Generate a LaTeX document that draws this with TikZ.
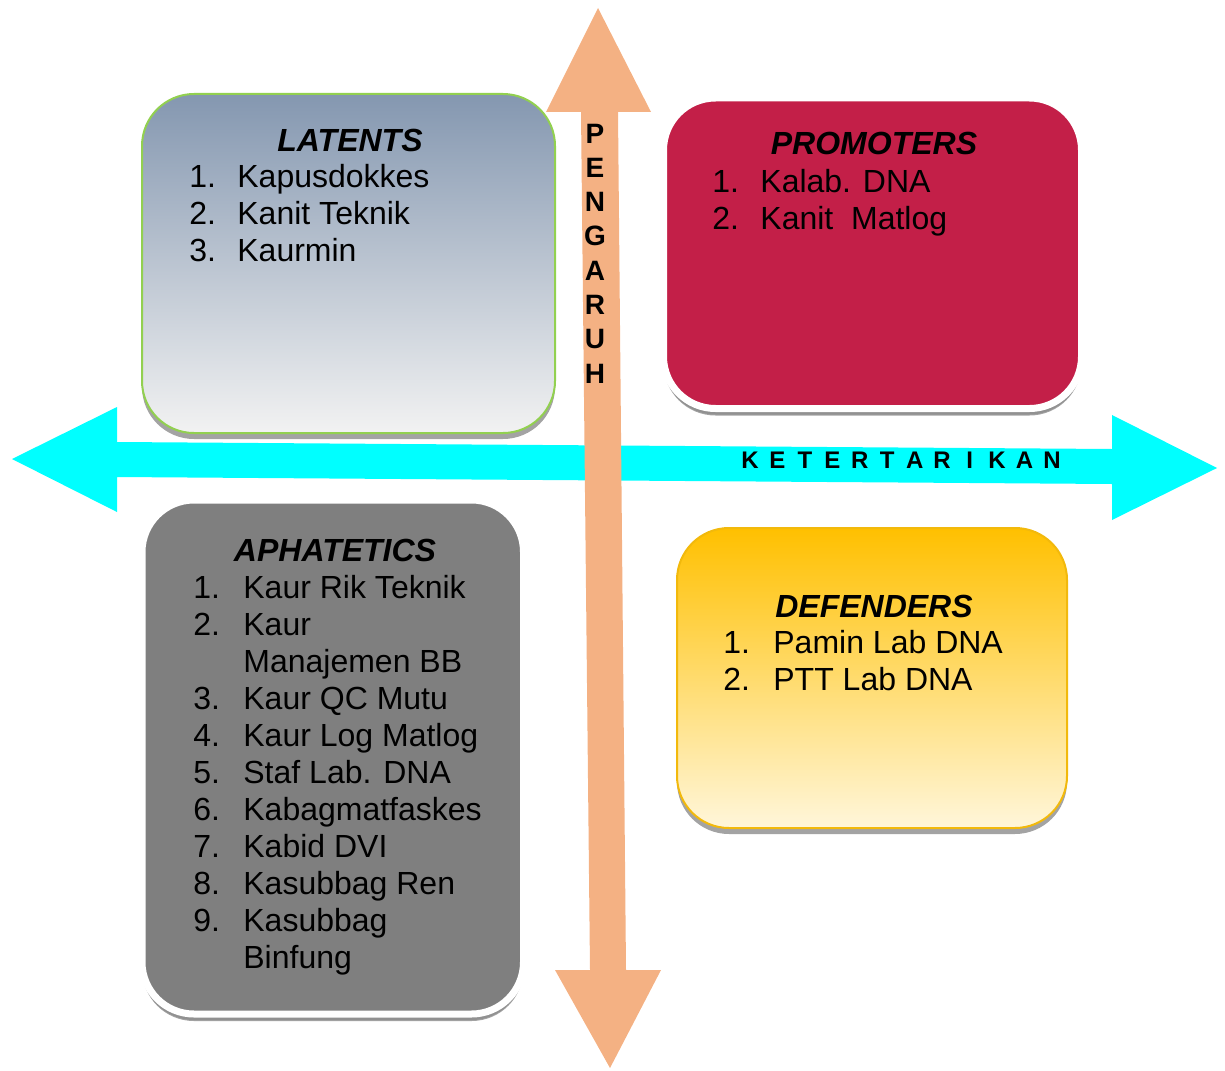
\documentclass[tikz,border=0pt]{standalone}
\usepackage{fontspec}
\setmainfont{Liberation Sans}
\usetikzlibrary{shadows,fit}

\definecolor{peach}{HTML}{F4B183}
\definecolor{aqua}{HTML}{00FFFF}
\definecolor{slate}{HTML}{8497B0}
\definecolor{paleslate}{HTML}{BAC1CD}
\definecolor{lightgrey}{HTML}{F2F2F2}
\definecolor{leafgreen}{HTML}{92D050}
\definecolor{crimson}{RGB}{195,31,72}
\definecolor{amber}{HTML}{FFC000}
\definecolor{paleamber}{HTML}{FFDF95}
\definecolor{cream}{HTML}{FFF6DA}
\definecolor{amberline}{HTML}{F2B90C}
\definecolor{midgrey}{HTML}{7F7F7F}

\tikzset{
    quadbox/.style={rounded corners=26pt, inner sep=0pt,
        drop shadow={shadow xshift=0pt, shadow yshift=-3pt, fill=black!45, opacity=.8}},
    whitebox/.style={quadbox, draw=white, line width=3.5pt,
        drop shadow={shadow xshift=0pt, shadow yshift=-3.5pt, fill=black!45, opacity=.8}},
    title/.style={anchor=base, inner sep=0pt, font=\fontsize{16}{18.5}\selectfont\bfseries\itshape},
    list/.style={anchor=base west, inner sep=0pt, font=\fontsize{16}{18.5}\selectfont},
    axislabel/.style={anchor=base, inner sep=0pt, font=\bfseries}
}

\begin{document}
\begin{tikzpicture}[x=0.5pt, y=-0.5pt]
    \useasboundingbox (0,0) rectangle (1225,1070);

    % quadrant boxes
    \node [quadbox, fit={(142,94) (555,433)}, draw=leafgreen, line width=1pt,
        top color=slate, middle color=paleslate, bottom color=lightgrey] (latents) {};
    \node [whitebox, fit={(663.5,98) (1081.5,408.5)}, fill=crimson] (promoters) {};
    \node [quadbox, fit={(677,528) (1067,828)}, draw=amberline, line width=1pt,
        top color=amber, middle color=paleamber, bottom color=cream] (defenders) {};
    \node [whitebox, fit={(142,500) (523.5,1014)}, fill=midgrey] (aphatetics) {};

    % axes
    \fill [aqua] (12,459) -- (117,407) -- (117,442) -- (1112,449) -- (1112,415)
        -- (1217,468) -- (1112,520) -- (1112,484) -- (117,477) -- (117,512) -- cycle;
    \fill [peach] (598,8) -- (651,112) -- (618,112) -- (626,970) -- (661,970)
        -- (610,1068) -- (555,970) -- (590,970) -- (581,112) -- (546,112) -- cycle;

    \foreach \ch [count=\i from 0] in {P,E,N,G,A,R,U,H}
        \node [axislabel, font=\fontsize{14}{16}\selectfont\bfseries] (pg\i) at (595,143+34.3*\i) {\ch};
    \foreach \ch [count=\i from 0] in {K,E,T,E,R,T,A,R,I,K,A,N}
        \node [axislabel, font=\fontsize{12}{14}\selectfont\bfseries] (kt\i) at (750+27.45*\i,468) {\ch};

    % texts
    \node [title] (latentstitle) at (350,151) {LATENTS};
    \node [list] (latentslist) at (189,187) {\begin{tabular}[t]{@{}p{24pt}@{}l@{}}
        1. & Kapusdokkes\\
        2. & Kanit Teknik\\
        3. & Kaurmin
    \end{tabular}};

    \node [title] (promoterstitle) at (874,155) {PROMOTERS};
    \node [list] (promoterslist) at (712,192) {\begin{tabular}[t]{@{}p{24pt}@{}l@{}}
        1. & Kalab. DNA\\
        2. & Kanit\ \ Matlog
    \end{tabular}};

    \node [title] (defenderstitle) at (874,617) {DEFENDERS};
    \node [list] (defenderslist) at (723,653) {\begin{tabular}[t]{@{}p{25pt}@{}l@{}}
        1. & Pamin Lab DNA\\
        2. & PTT Lab DNA
    \end{tabular}};

    \node [title] (aphateticstitle) at (335,561) {APHATETICS};
    \node [list] (aphateticslist) at (193,598) {\begin{tabular}[t]{@{}p{25pt}@{}l@{}}
        1. & Kaur Rik Teknik\\
        2. & Kaur\\
           & Manajemen BB\\
        3. & Kaur QC Mutu\\
        4. & Kaur Log Matlog\\
        5. & Staf Lab. DNA\\
        6. & Kabagmatfaskes\\
        7. & Kabid DVI\\
        8. & Kasubbag Ren\\
        9. & Kasubbag\\
           & Binfung
    \end{tabular}};
\end{tikzpicture}
\end{document}
